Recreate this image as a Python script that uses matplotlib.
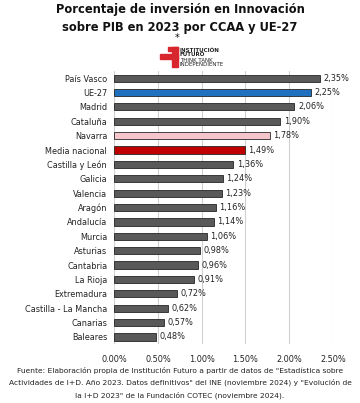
import matplotlib
matplotlib.use("Agg")
import matplotlib.pyplot as plt
from matplotlib.patches import Rectangle

categories = ["País Vasco", "UE-27", "Madrid", "Cataluña", "Navarra", "Media nacional",
              "Castilla y León", "Galicia", "Valencia", "Aragón", "Andalucía", "Murcia",
              "Asturias", "Cantabria", "La Rioja", "Extremadura", "Castilla - La Mancha",
              "Canarias", "Baleares"]
values = [2.35, 2.25, 2.06, 1.90, 1.78, 1.49, 1.36, 1.24, 1.23, 1.16, 1.14, 1.06,
          0.98, 0.96, 0.91, 0.72, 0.62, 0.57, 0.48]
xticks = [0, 0.5, 1.0, 1.5, 2.0, 2.5]
xtick_labels = ["0.00%", "0.50%", "1.00%", "1.50%", "2.00%", "2.50%"]

special = {"UE-27": "#1F70BE", "Navarra": "#F4C5CB", "Media nacional": "#C00000"}
colors = [special.get(c, "#595959") for c in categories]

fig = plt.figure(figsize=(3.6, 4.03), dpi=100)
ax = fig.add_axes([0.317, 0.146, 0.608, 0.678])
n = len(categories)
ypos = list(range(n))
ax.barh(ypos, values, height=0.5, color=colors, edgecolor="#262626", linewidth=0.6, zorder=3)
ax.set_ylim(n - 0.5, -0.5)
ax.set_xlim(0, 2.5)
ax.set_yticks(ypos)
ax.set_yticklabels(categories, fontsize=5.9, color="#222222")
ax.set_xticks(xticks)
ax.set_xticklabels(xtick_labels, fontsize=5.9, color="#222222")
ax.tick_params(length=0, pad=5)
ax.tick_params(axis="x", pad=8)
for s in ax.spines.values():
    s.set_visible(False)
ax.grid(axis="x", color="#D0D0D0", linewidth=0.8, zorder=0)
for y, v in zip(ypos, values):
    ax.text(v + 0.04, y, f"{v:.2f}".replace(".", ",") + "%", va="center", ha="left",
            fontsize=5.9, color="#222222", clip_on=False)

fig.text(0.5, 1 - 10 / 403, "Porcentaje de inversión en Innovación", ha="center", va="center",
         fontsize=8.3, fontweight="bold", color="#111111")
fig.text(0.5, 1 - 27 / 403, "sobre PIB en 2023 por CCAA y UE-27", ha="center", va="center",
         fontsize=8.3, fontweight="bold", color="#111111")
fig.text(177 / 360, 1 - 38 / 403, "*", ha="center", va="center", fontsize=7, color="#111111")

# logo
red = "#D7262E"
W, H = 360, 403
def rect(x, y, w, h):
    fig.patches.append(Rectangle((x / W, 1 - (y + h) / H), w / W, h / H,
                                 transform=fig.transFigure, color=red))
rect(172, 47, 6, 20)
rect(168, 47, 10, 4)
rect(160, 54, 18, 5)
logo_lines = ["INSTITUCIÓN", "FUTURO", "THINK TANK", "INDEPENDIENTE"]
weights = ["bold", "bold", "normal", "normal"]
for i, (t, w) in enumerate(zip(logo_lines, weights)):
    fig.text(180 / W, 1 - (50 + i * 5.0) / H, t, ha="left", va="center",
             fontsize=4.0, fontweight=w, color="#222222")

foot = ["Fuente: Elaboración propia de Institución Futuro a partir de datos de \"Estadística sobre",
        "Actividades de I+D. Año 2023. Datos definitivos\" del INE (noviembre 2024) y \"Evolución de",
        "la I+D 2023\" de la Fundación COTEC (noviembre 2024)."]
for i, t in enumerate(foot):
    fig.text(0.5, 1 - (370 + i * 12.5) / H, t, ha="center", va="center", fontsize=5.4,
             color="#222222")

fig.savefig("out.png", dpi=100)
